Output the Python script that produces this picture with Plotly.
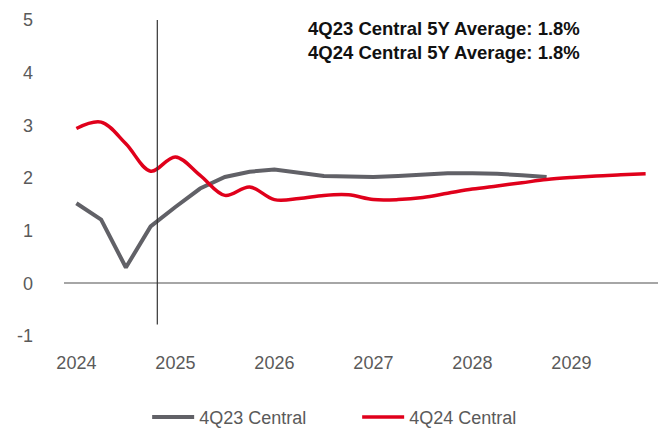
import plotly.graph_objects as go

# Quarterly periods, 2024Q1 .. 2029Q4
years = [2024, 2025, 2026, 2027, 2028, 2029]
quarters = [f"{y}Q{q}" for y in years for q in range(1, 5)]
year_labels = [str(y) for y in years]
year_ticks = [f"{y}Q1" for y in years]

# y-axis ticks (plain hyphen for negatives)
y_ticks = [-1, 0, 1, 2, 3, 4, 5]
y_labels = ["-1", "0", "1", "2", "3", "4", "5"]

# GDP growth forecasts (%)
central_4q23 = [1.52, 1.21, 0.30, 1.08, 1.45, 1.80, 2.02, 2.12, 2.16, 2.10,
                2.04, 2.03, 2.02, 2.04, 2.07, 2.09, 2.09, 2.08, 2.05, 2.02]
central_4q24 = [2.94, 3.06, 2.65, 2.13, 2.40, 2.05, 1.67, 1.83, 1.59, 1.61,
                1.67, 1.68, 1.59, 1.59, 1.63, 1.71, 1.79, 1.85, 1.91, 1.97,
                2.01, 2.04, 2.06, 2.08]

avg_4q23 = 1.8
avg_4q24 = 1.8

GREY = "#616167"
RED = "#e0001b"
TEXT = "#5a5a5a"
FONT = "Liberation Sans, Arial, sans-serif"

fig = go.Figure()
fig.add_trace(go.Scatter(
    x=quarters[:len(central_4q23)], y=central_4q23, mode="lines",
    name="4Q23 Central", line=dict(color=GREY, width=4)))
fig.add_trace(go.Scatter(
    x=quarters[:len(central_4q24)], y=central_4q24, mode="lines",
    name="4Q24 Central", line=dict(color=RED, width=3.5, shape="spline", smoothing=1.0)))

# forecast-date marker
fig.add_shape(type="line", xref="x", yref="y", x0=3.27, x1=3.27, y0=-0.78, y1=5,
              line=dict(color="#333333", width=1.2))

fig.add_annotation(
    xref="paper", yref="paper", x=0.407, y=1.012, xanchor="left", yanchor="top",
    align="left", showarrow=False,
    text=(f"<b>4Q23 Central 5Y Average: {avg_4q23:.1f}%</b><br>"
          f"<b>4Q24 Central 5Y Average: {avg_4q24:.1f}%</b>"),
    font=dict(family=FONT, size=18.5, color="#111111"))

fig.update_layout(
    width=662, height=428,
    margin=dict(l=64, r=4, t=20, b=92, autoexpand=False),
    paper_bgcolor="white", plot_bgcolor="white",
    font=dict(family=FONT, size=18, color=TEXT),
    showlegend=True,
    legend=dict(orientation="h", x=0.14, xanchor="left",
                yref="container", y=0.025, yanchor="middle",
                itemwidth=42,
                entrywidth=153, entrywidthmode="pixels",
                font=dict(family=FONT, size=18, color=TEXT)),
    xaxis=dict(type="category", categoryorder="array", categoryarray=quarters,
               range=[-0.5, 23.5], tickmode="array", tickvals=year_ticks,
               ticktext=year_labels, showgrid=False, showline=False, zeroline=False,
               ticks="", ticklabelstandoff=14),
    yaxis=dict(range=[-1, 5], tickmode="array", tickvals=y_ticks, ticktext=y_labels,
               showgrid=False, showline=False,
               zeroline=True, zerolinecolor="#a6a6a6", zerolinewidth=2,
               ticks="", ticklabelstandoff=30),
)

fig.write_html("out.html")
